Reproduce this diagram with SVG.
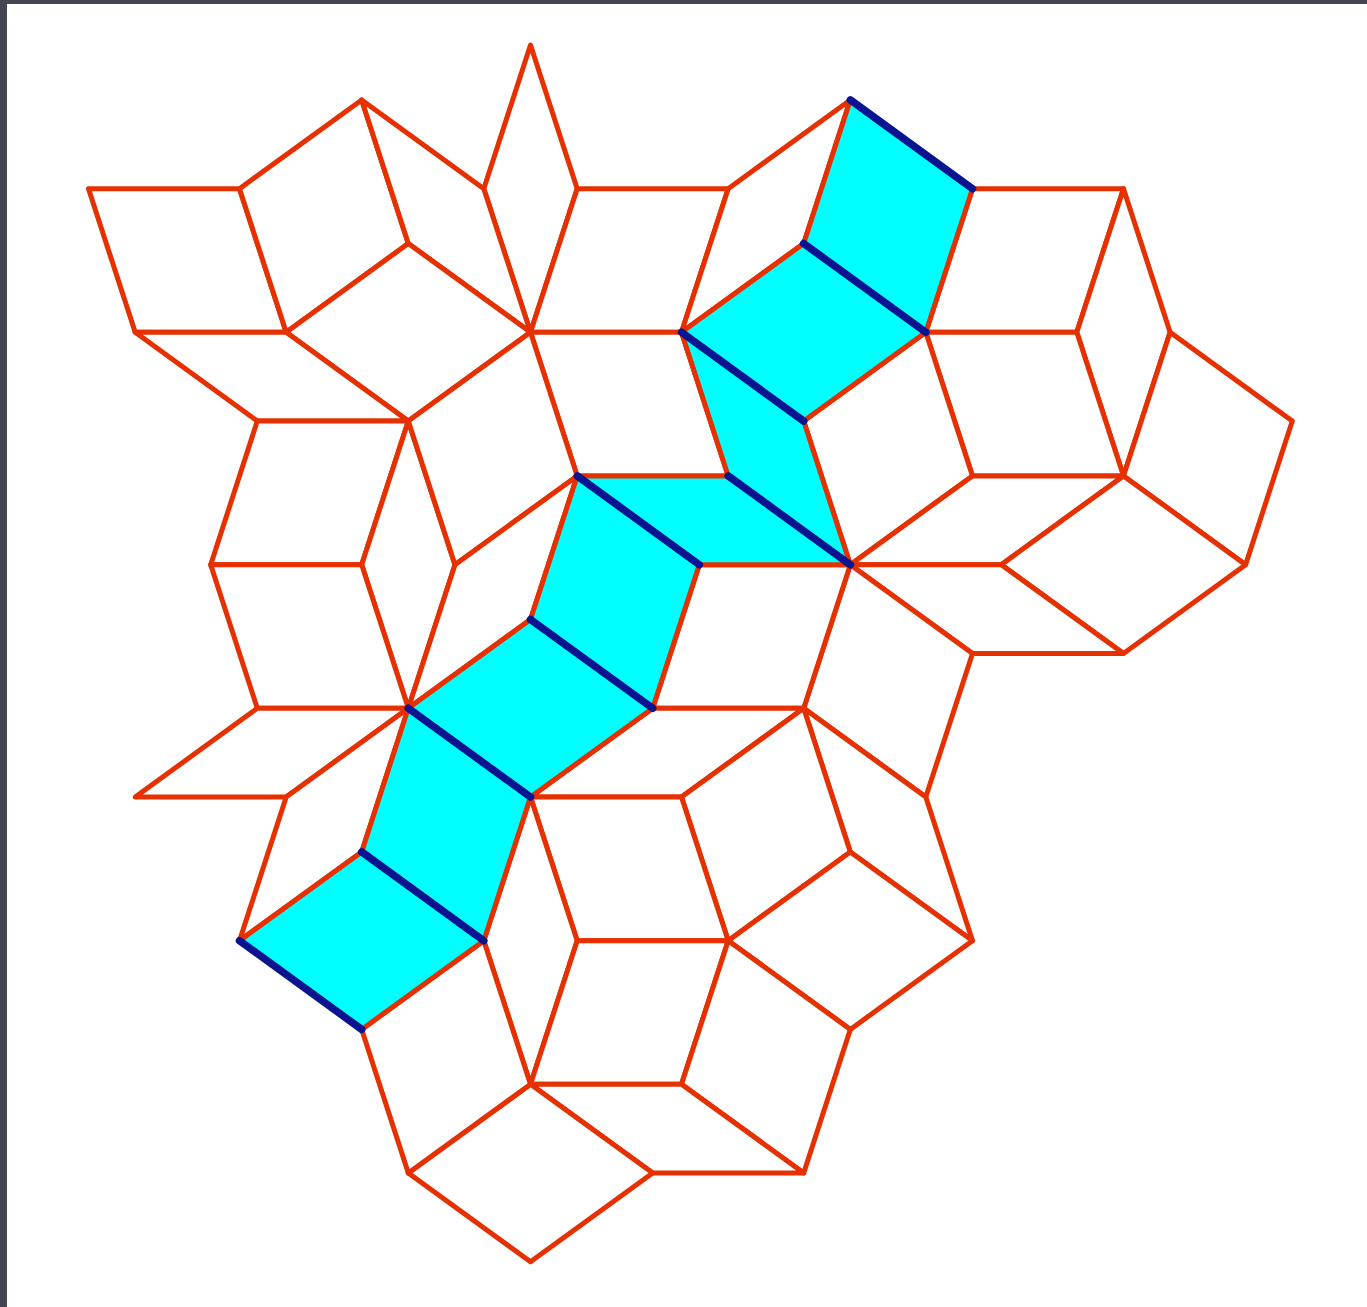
<svg xmlns="http://www.w3.org/2000/svg" width="1367" height="1307" viewBox="0 0 1367 1307">
<style>
.t{fill:#ffffff;stroke:#e63000;stroke-width:5;stroke-linejoin:round}
.c{fill:#00ffff;stroke:#e63000;stroke-width:5;stroke-linejoin:round}
.b{stroke:#0a1490;stroke-width:7.5;stroke-linecap:round;fill:none}
</style>
<rect x="0" y="0" width="1367" height="1307" fill="#434651"/>
<rect x="7" y="4" width="1360" height="1303" fill="#ffffff"/>
<g id="tiles">
<polygon class="t" points="530.5,45.1 577.2,188.7 530.5,332.3 483.8,188.7"/>
<polygon class="t" points="88.5,188.7 239.5,188.7 286.2,332.3 135.2,332.3"/>
<polygon class="t" points="239.5,188.7 361.7,99.9 408.3,243.5 286.2,332.3"/>
<polygon class="t" points="361.7,99.9 483.8,188.7 530.5,332.3 408.3,243.5"/>
<polygon class="t" points="286.2,332.3 408.3,243.5 530.5,332.3 408.3,421.1"/>
<polygon class="t" points="135.2,332.3 286.2,332.3 408.3,421.1 257.3,421.1"/>
<polygon class="t" points="257.3,421.1 408.3,421.1 361.7,564.7 210.7,564.7"/>
<polygon class="t" points="408.3,421.1 455.0,564.7 408.3,708.3 361.7,564.7"/>
<polygon class="t" points="210.7,564.7 361.7,564.7 408.3,708.3 257.3,708.3"/>
<polygon class="t" points="257.3,708.3 408.3,708.3 286.2,797.0 135.2,797.0"/>
<polygon class="t" points="286.2,797.0 408.3,708.3 361.7,851.9 239.5,940.7"/>
<polygon class="t" points="577.2,188.7 728.2,188.7 681.5,332.3 530.5,332.3"/>
<polygon class="t" points="728.2,188.7 850.3,99.9 803.7,243.5 681.5,332.3"/>
<polygon class="t" points="530.5,332.3 681.5,332.3 728.2,475.9 577.2,475.9"/>
<polygon class="t" points="408.3,421.1 530.5,332.3 577.2,475.9 455.0,564.7"/>
<polygon class="t" points="455.0,564.7 577.2,475.9 530.5,619.5 408.3,708.3"/>
<polygon class="t" points="972.5,188.7 1123.5,188.7 1076.8,332.3 925.8,332.3"/>
<polygon class="t" points="1123.5,188.7 1170.1,332.3 1123.5,475.9 1076.8,332.3"/>
<polygon class="t" points="1170.1,332.3 1292.3,421.1 1245.6,564.7 1123.5,475.9"/>
<polygon class="t" points="925.8,332.3 1076.8,332.3 1123.5,475.9 972.5,475.9"/>
<polygon class="t" points="803.7,421.1 925.8,332.3 972.5,475.9 850.3,564.7"/>
<polygon class="t" points="850.3,564.7 972.5,475.9 1123.5,475.9 1001.3,564.7"/>
<polygon class="t" points="1001.3,564.7 1123.5,475.9 1245.6,564.7 1123.5,653.4"/>
<polygon class="t" points="850.3,564.7 1001.3,564.7 1123.5,653.4 972.5,653.4"/>
<polygon class="t" points="850.3,564.7 972.5,653.4 925.8,797.0 803.7,708.3"/>
<polygon class="t" points="699.3,564.7 850.3,564.7 803.7,708.3 652.7,708.3"/>
<polygon class="t" points="652.7,708.3 803.7,708.3 681.5,797.0 530.5,797.0"/>
<polygon class="t" points="803.7,708.3 925.8,797.0 972.5,940.7 850.3,851.9"/>
<polygon class="t" points="681.5,797.0 803.7,708.3 850.3,851.9 728.2,940.7"/>
<polygon class="t" points="530.5,797.0 681.5,797.0 728.2,940.7 577.2,940.7"/>
<polygon class="t" points="483.8,940.7 530.5,797.0 577.2,940.7 530.5,1084.3"/>
<polygon class="t" points="728.2,940.7 850.3,851.9 972.5,940.7 850.3,1029.4"/>
<polygon class="t" points="577.2,940.7 728.2,940.7 681.5,1084.3 530.5,1084.3"/>
<polygon class="t" points="728.2,940.7 850.3,1029.4 803.7,1173.0 681.5,1084.3"/>
<polygon class="t" points="530.5,1084.3 681.5,1084.3 803.7,1173.0 652.7,1173.0"/>
<polygon class="t" points="530.5,1084.3 652.7,1173.0 530.5,1261.8 408.3,1173.0"/>
<polygon class="t" points="361.7,1029.4 483.8,940.7 530.5,1084.3 408.3,1173.0"/>
</g>
<g id="strip">
<polygon class="c" points="239.5,940.7 361.7,851.9 483.8,940.7 361.7,1029.4"/>
<polygon class="c" points="361.7,851.9 408.3,708.3 530.5,797.0 483.8,940.7"/>
<polygon class="c" points="408.3,708.3 530.5,619.5 652.7,708.3 530.5,797.0"/>
<polygon class="c" points="530.5,619.5 577.2,475.9 699.3,564.7 652.7,708.3"/>
<polygon class="c" points="577.2,475.9 728.2,475.9 850.3,564.7 699.3,564.7"/>
<polygon class="c" points="681.5,332.3 803.7,421.1 850.3,564.7 728.2,475.9"/>
<polygon class="c" points="681.5,332.3 803.7,243.5 925.8,332.3 803.7,421.1"/>
<polygon class="c" points="850.3,99.9 972.5,188.7 925.8,332.3 803.7,243.5"/>
</g>
<g id="connectors">
<line class="b" x1="239.5" y1="940.7" x2="361.7" y2="1029.4"/>
<line class="b" x1="361.7" y1="851.9" x2="483.8" y2="940.7"/>
<line class="b" x1="408.3" y1="708.3" x2="530.5" y2="797.0"/>
<line class="b" x1="530.5" y1="619.5" x2="652.7" y2="708.3"/>
<line class="b" x1="577.2" y1="475.9" x2="699.3" y2="564.7"/>
<line class="b" x1="728.2" y1="475.9" x2="850.3" y2="564.7"/>
<line class="b" x1="681.5" y1="332.3" x2="803.7" y2="421.1"/>
<line class="b" x1="803.7" y1="243.5" x2="925.8" y2="332.3"/>
<line class="b" x1="850.3" y1="99.9" x2="972.5" y2="188.7"/>
</g>
</svg>
